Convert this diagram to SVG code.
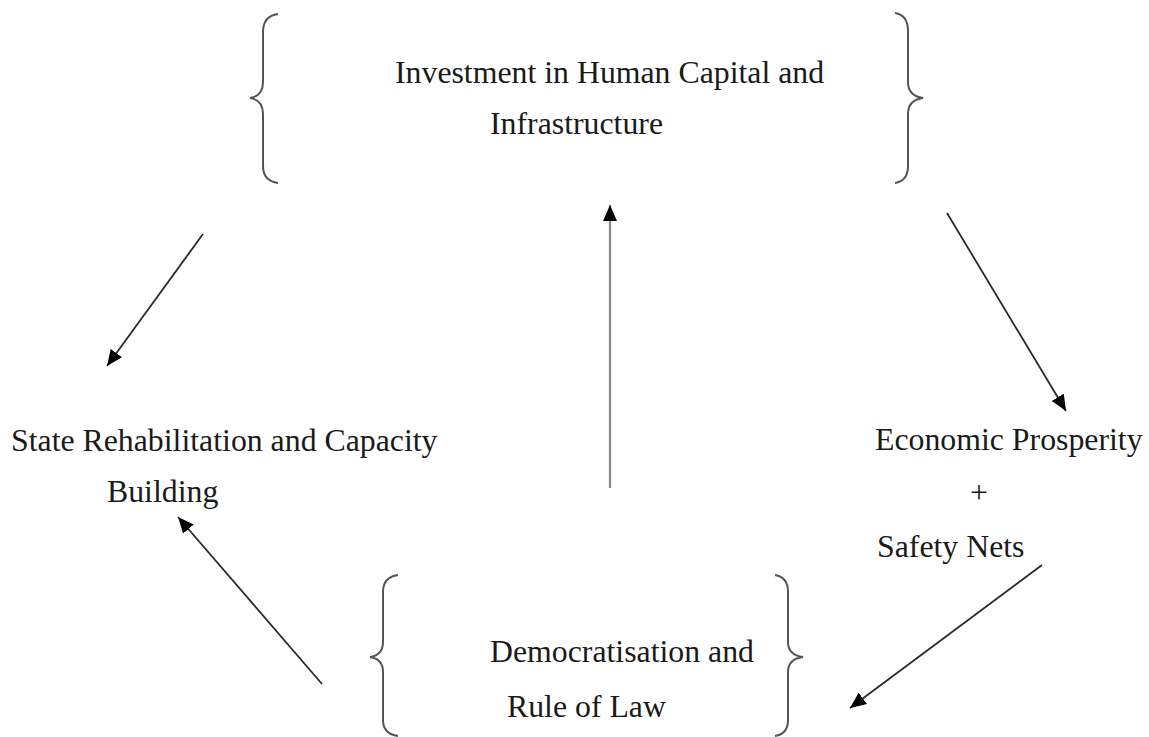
<svg xmlns="http://www.w3.org/2000/svg" width="1149" height="737" viewBox="0 0 1149 737">
<style>
text{font-family:"Liberation Serif","Times New Roman",serif;font-size:31.8px;fill:#1a1a1a}
.brace{fill:none;stroke:#555;stroke-width:2}
.arr{stroke:#2a2a2a;stroke-width:1.8;fill:none;marker-end:url(#ah)}
.arrg{stroke:#888;stroke-width:2.2;fill:none;marker-end:url(#ah)}
</style>
<defs>
<marker id="ah" markerUnits="userSpaceOnUse" markerWidth="18" markerHeight="16" refX="16" refY="7.5" orient="auto">
<path d="M0,0.5 L16,7.5 L0,14.5 z" fill="#000"/>
</marker>
</defs>
<rect width="1149" height="737" fill="#fff"/>
<g id="node-investment">
<path class="brace" d="M278,14 Q263,16 263,32 L263,82 Q263,96 250,98 Q263,100 263,114 L263,166 Q263,181 278,183"/>
<path class="brace" d="M895,13 Q908,15 908,31 L908,82 Q908,96 923,98 Q908,100 908,114 L908,166 Q908,181 895,183"/>
<text x="395" y="83">Investment in Human Capital and</text>
<text x="490" y="134">Infrastructure</text>
</g>
<g id="node-state">
<text x="11" y="451">State Rehabilitation and Capacity</text>
<text x="107" y="502">Building</text>
</g>
<g id="node-economic">
<text x="875" y="450">Economic Prosperity</text>
<text x="979" y="503" text-anchor="middle">+</text>
<text x="877" y="557">Safety Nets</text>
</g>
<g id="node-democratisation">
<path class="brace" d="M398,575 Q383,577 383,592 L383,642 Q383,655 370,657 Q383,659 383,672 L383,720 Q383,734 398,736"/>
<path class="brace" d="M775,575 Q788,577 788,592 L788,642 Q788,655 803,657 Q788,659 788,672 L788,720 Q788,734 775,736"/>
<text x="490" y="662">Democratisation and</text>
<text x="507" y="717">Rule of Law</text>
</g>
<g id="connectors">
<line class="arr" x1="203" y1="234" x2="107" y2="366"/>
<line class="arr" x1="947" y1="213" x2="1066" y2="411"/>
<line class="arrg" x1="610" y1="488" x2="610" y2="205"/>
<line class="arr" x1="322" y1="684" x2="178" y2="517"/>
<line class="arr" x1="1042" y1="565" x2="850" y2="708"/>
</g>
</svg>
